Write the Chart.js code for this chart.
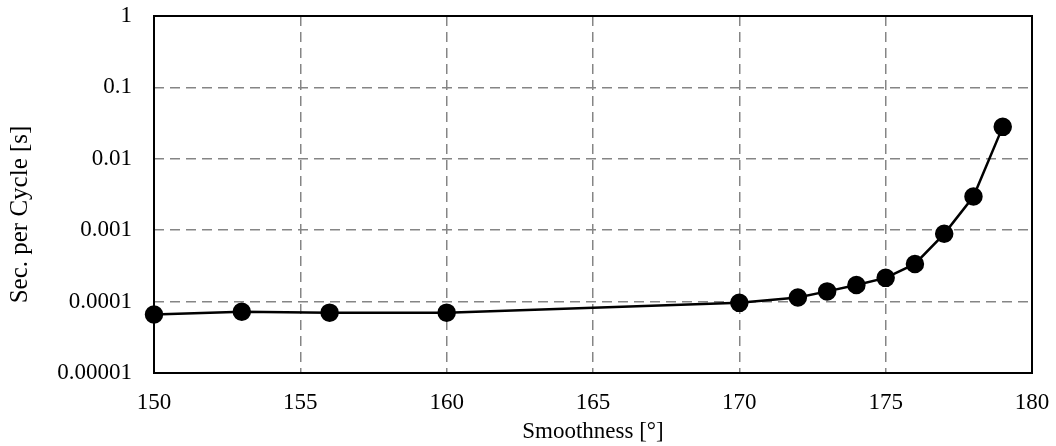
<!DOCTYPE html>
<html>
<head>
<meta charset="utf-8">
<script src="https://cdn.jsdelivr.net/npm/chart.js@4/dist/chart.umd.min.js"></script>
<style>
  html, body { margin: 0; padding: 0; background: #fff; }
  #wrap { width: 1056px; height: 446px; }
</style>
</head>
<body>
<div id="wrap"><canvas id="cycleChart" width="1056" height="446"></canvas></div>
<script>
// smoothness angle vs. seconds per cycle
let smoothness = [150, 153, 156, 160, 170, 172, 173, 174, 175, 176, 177, 178, 179]
let secPerCycle = [0.000066, 0.000072, 0.00007, 0.00007, 0.000096, 0.000114, 0.000139,
                   0.000171, 0.000215, 0.000337, 0.00089, 0.00296, 0.028]
let yTickValues = [0.00001, 0.0001, 0.001, 0.01, 0.1, 1]
let yTickLabels = ['0.00001', '0.0001', '0.001', '0.01', '0.1', '1']
let yTitle = 'Sec. per Cycle [s]'

let points = []
for (let i = 0; i < smoothness.length; i++) {
  points.push({ x: smoothness[i], y: secPerCycle[i] })
}

const serif = "'Liberation Serif', 'Times New Roman', serif"

// black frame around the plot area + the rotated y title (sits a bit low, like the original sheet)
const frame = {
  id: 'frame',
  afterDatasetsDraw(chart) {
    const a = chart.chartArea, ctx = chart.ctx
    ctx.save()
    ctx.strokeStyle = '#000'
    ctx.lineWidth = 2
    ctx.strokeRect(a.left, a.top, a.right - a.left, a.bottom - a.top)
    ctx.restore()
  },
  afterDraw(chart) {
    const a = chart.chartArea, ctx = chart.ctx
    ctx.save()
    ctx.translate(20, (a.top + a.bottom) / 2 + 20)
    ctx.rotate(-Math.PI / 2)
    ctx.fillStyle = '#000'
    ctx.font = '25px ' + serif
    ctx.textAlign = 'center'
    ctx.textBaseline = 'middle'
    ctx.fillText(yTitle, 0, 0)
    ctx.restore()
  }
}

// hide grid lines that sit on the frame
function innerGrid(ctx) {
  const s = ctx.scale
  const v = ctx.tick ? ctx.tick.value : null
  if (v === s.min || v === s.max) return 'rgba(0,0,0,0)'
  return '#858585'
}

let ctx = document.getElementById('cycleChart').getContext('2d')
let myChart = new Chart(ctx, {
  type: 'line',
  data: {
    datasets: [{
      data: points,
      borderColor: '#000',
      backgroundColor: '#000',
      borderWidth: 2.5,
      pointRadius: 8,
      pointHoverRadius: 8,
      pointBackgroundColor: '#000',
      pointBorderColor: '#000',
      tension: 0,
      clip: false
    }]
  },
  options: {
    responsive: false,
    animation: false,
    events: [],
    layout: { padding: { top: 16, right: 24, left: 0, bottom: 0 } },
    plugins: {
      legend: { display: false },
      tooltip: { enabled: false }
    },
    scales: {
      x: {
        type: 'linear',
        min: 150,
        max: 180,
        ticks: {
          stepSize: 5,
          padding: 16,
          color: '#000',
          font: { family: serif, size: 23 }
        },
        grid: { color: innerGrid, lineWidth: 1.5, drawTicks: false },
        border: { display: false, dash: [10, 6] },
        title: {
          display: true,
          text: 'Smoothness [°]',
          color: '#000',
          font: { family: serif, size: 23 },
          padding: { top: 0, bottom: 0 }
        },
        afterFit(scale) {
          scale.height = 73
          scale.paddingLeft = 0
          scale.paddingRight = 0
        }
      },
      y: {
        type: 'logarithmic',
        min: 0.00001,
        max: 1,
        afterBuildTicks(scale) {
          scale.ticks = yTickValues.map(v => ({ value: v }))
        },
        ticks: {
          padding: 22,
          color: '#000',
          font: { family: serif, size: 23 },
          callback(value) {
            let i = yTickValues.findIndex(t => Math.abs(t - value) / t < 1e-6)
            return i >= 0 ? yTickLabels[i] : ''
          }
        },
        grid: { color: innerGrid, lineWidth: 1.5, drawTicks: false },
        border: { display: false, dash: [10, 6] },
        afterFit(scale) {
          scale.width = 154
          scale.paddingTop = 0
          scale.paddingBottom = 0
        }
      }
    }
  },
  plugins: [frame]
})
</script>
</body>
</html>
